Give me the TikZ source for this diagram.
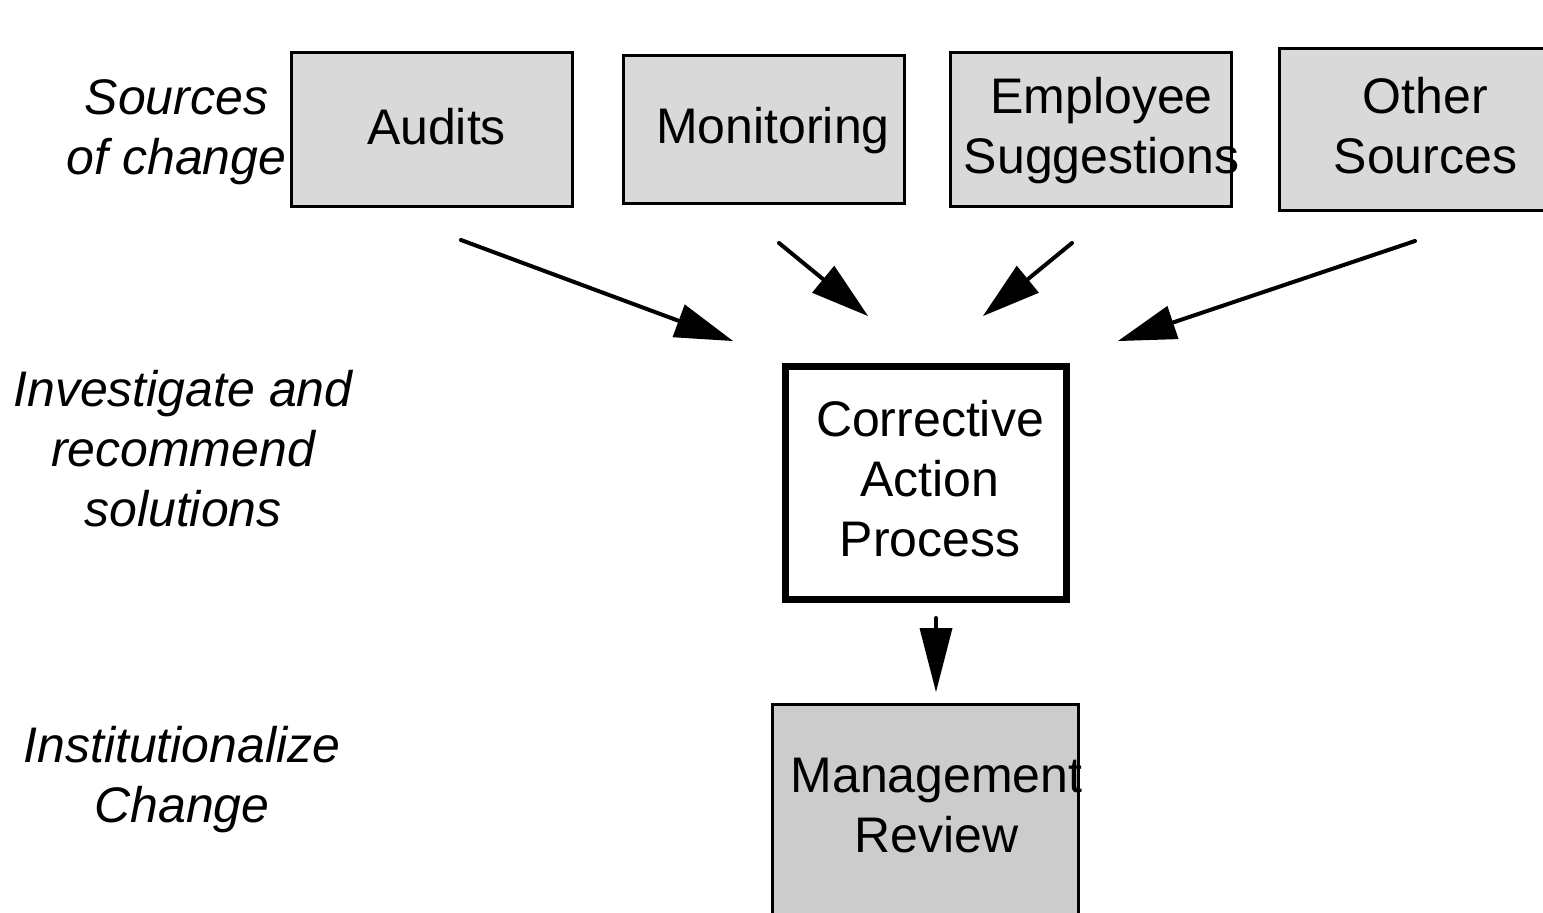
\documentclass[tikz,border=0pt]{standalone}
\usepackage{fontspec}
\setmainfont{Liberation Sans}
\usetikzlibrary{arrows.meta}
\definecolor{srcfill}{RGB}{217,217,217}
\definecolor{revfill}{RGB}{204,204,204}
\begin{document}
\begin{tikzpicture}[x=1pt,y=-1pt,
  boxtxt/.style={font=\fontsize{50}{60}\selectfont, align=center, inner sep=0pt},
  srcbox/.style={draw, line width=3.5pt, fill=srcfill, inner sep=0pt, minimum width=281pt, minimum height=154pt},
  cabox/.style={draw, line width=7pt, fill=white, inner sep=0pt, minimum width=281pt, minimum height=233pt},
  revbox/.style={draw, line width=3.5pt, fill=revfill, inner sep=0pt, minimum width=306pt, minimum height=225pt},
  stage/.style={font=\fontsize{50}{60}\selectfont\itshape, align=center, inner sep=0pt},
  flow/.style={line width=4pt, line cap=round, -{Triangle[length=58pt,width=35pt,line width=0pt]}}
]
\useasboundingbox (0,0) rectangle (1543,913);
\clip (0,0) rectangle (1543,913);
\fill[white] (0,0) rectangle (1543,913);

% stage labels
\node[stage] (lsrc) at (176.5,132) {Sources\\of change};
\node[stage] (linv) at (183,449) {Investigate and\\recommend\\solutions};
\node[stage] (linst) at (182,780) {Institutionalize\\Change};

% source boxes
\node[srcbox, label={[boxtxt, xshift=4.5pt, yshift=2.5pt]center:Audits}] (aud) at (432,129.5) {};
\node[srcbox, minimum height=148pt, label={[boxtxt, xshift=9pt, yshift=-1.5pt]center:Monitoring}] (mon) at (764,129.5) {};
\node[srcbox, label={[boxtxt, xshift=10.5pt, yshift=-1.5pt]center:Employee\\Suggestions}] (emp) at (1091,129.5) {};
\node[srcbox, minimum width=300pt, minimum height=162pt, label={[boxtxt, xshift=-4pt, yshift=3.5pt]center:Other\\Sources}] (oth) at (1429.5,129.5) {};

% process boxes
\node[cabox, label={[boxtxt, xshift=4.5pt, yshift=3.5pt]center:Corrective\\Action\\Process}] (cap) at (925.5,482.5) {};
\node[revbox, label={[boxtxt, xshift=11pt, yshift=11pt]center:Management\\Review}] (rev) at (925.5,817) {};

% arrow ends
\coordinate (s1) at (461,240);  \coordinate (t1) at (733,341);
\coordinate (s2) at (779,243);  \coordinate (t2) at (868,316);
\coordinate (s3) at (1072,243); \coordinate (t3) at (983,316);
\coordinate (s4) at (1415,241); \coordinate (t4) at (1118,341);
\coordinate (s5) at (936,618);  \coordinate (t5) at (936,692);

\draw[flow] (s1) -- (t1);
\draw[flow] (s2) -- (t2);
\draw[flow] (s3) -- (t3);
\draw[flow] (s4) -- (t4);
\draw[flow, -{Triangle[length=64pt,width=33pt,line width=0pt]}] (s5) -- (t5);
\end{tikzpicture}
\end{document}
